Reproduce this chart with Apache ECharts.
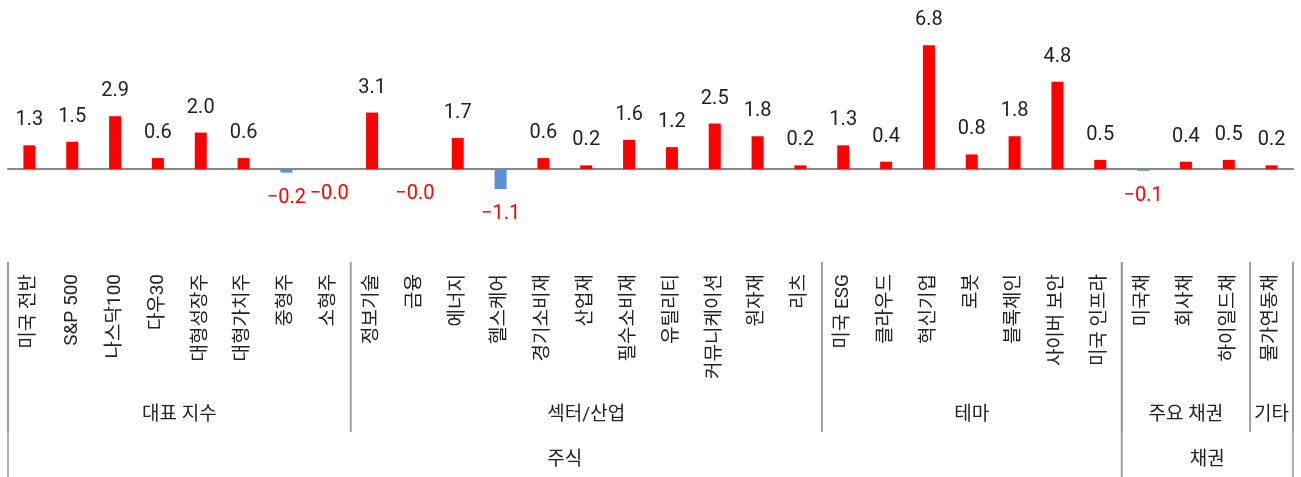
<!DOCTYPE html>
<html>
<head>
<meta charset="utf-8">
<script src="https://cdn.jsdelivr.net/npm/echarts@6/dist/echarts.min.js"></script>
<style>
  html, body { margin: 0; padding: 0; background: #fff; }
  #chart { width: 1301px; height: 477px; }
</style>
</head>
<body>
<div id="chart"></div>
<script>
// 카테고리 (하위 항목)
const categories = [
  '미국 전반', 'S&P 500', '나스닥100', '다우30', '대형성장주', '대형가치주', '중형주', '소형주',
  '정보기술', '금융', '에너지', '헬스케어', '경기소비재', '산업재', '필수소비재', '유틸리티',
  '커뮤니케이션', '원자재', '리츠',
  '미국 ESG', '클라우드', '혁신기업', '로봇', '블록체인', '사이버 보안', '미국 인프라',
  '미국채', '회사채', '하이일드채', '물가연동채'
];
const values = [
  1.3, 1.5, 2.9, 0.6, 2.0, 0.6, -0.2, -0.02,
  3.1, -0.02, 1.7, -1.1, 0.6, 0.2, 1.6, 1.2,
  2.5, 1.8, 0.2,
  1.3, 0.4, 6.8, 0.8, 1.8, 4.8, 0.5,
  -0.1, 0.4, 0.5, 0.2
];
// 중분류 / 대분류
const midNames = ['대표 지수', '섹터/산업', '테마', '주요 채권', '기타'];
const midCounts = [8, 11, 7, 3, 1];
const topNames = ['주식', '채권'];
const topCounts = [26, 4];

const FONT = 'Roboto, "Noto Sans CJK KR", sans-serif';
const chart = echarts.init(document.getElementById('chart'));

// 그룹 구간 [시작, 끝, 레벨]
const spans = [];
const spanNames = [];
let pos = 0;
midCounts.forEach((n, i) => { spans.push([pos, pos + n, 2]); spanNames.push(midNames[i]); pos += n; });
pos = 0;
topCounts.forEach((n, i) => { spans.push([pos, pos + n, 3]); spanNames.push(topNames[i]); pos += n; });

const fmt = (v) => v.toFixed(1).replace('-', '\u2212');

const barData = values.map((v) => ({
  value: v,
  itemStyle: { color: v < 0 ? '#5b8fd6' : '#ff0000' },
  label: {
    position: v < 0 ? 'bottom' : 'top',
    color: v < 0 ? '#ff0000' : '#222'
  }
}));

const option = {
  animation: false,
  grid: [
    { left: 8, right: 8, top: 41.6, height: 218.4 },
    { left: 8, right: 8, top: 262, bottom: 0 }
  ],
  xAxis: [
    {
      type: 'category',
      gridIndex: 0,
      data: categories,
      axisLine: { lineStyle: { color: '#888', width: 2 } },
      axisTick: { inside: true, length: 5, lineStyle: { color: '#888', width: 2 } },
      axisLabel: { show: false }
    },
    {
      type: 'category',
      gridIndex: 1,
      position: 'top',
      data: categories,
      axisLine: { show: false },
      axisTick: { inside: true, length: 125, lineStyle: { color: '#999', width: 1.5 } },
      axisLabel: {
        inside: true,
        rotate: 90,
        margin: 12,
        fontSize: 19,
        color: '#222',
        fontFamily: FONT
      }
    },
    { type: 'value', gridIndex: 1, min: 0, max: 30, show: false }
  ],
  yAxis: [
    { type: 'value', gridIndex: 0, min: -5, max: 7, show: false },
    { type: 'value', gridIndex: 1, min: 0, max: 1, show: false }
  ],
  series: [
    {
      type: 'bar',
      xAxisIndex: 0,
      yAxisIndex: 0,
      barWidth: 12,
      data: barData,
      label: {
        show: true,
        distance: 15,
        fontSize: 20,
        fontFamily: FONT,
        formatter: (p) => fmt(p.value)
      }
    },
    {
      type: 'custom',
      xAxisIndex: 2,
      yAxisIndex: 1,
      clip: false,
      silent: true,
      data: spans,
      renderItem: (params, api) => {
        const cs = params.coordSys;
        const x0 = api.coord([api.value(0), 0])[0];
        const x1 = api.coord([api.value(1), 0])[0];
        const lvl = api.value(2);
        const yEnd = lvl === 2 ? cs.y + 170 : cs.y + cs.height;
        const yText = lvl === 2 ? cs.y + 153 : cs.y + 198;
        const stroke = { stroke: '#999', lineWidth: 1.5 };
        return {
          type: 'group',
          children: [
            { type: 'line', shape: { x1: x0, y1: cs.y, x2: x0, y2: yEnd }, style: stroke },
            { type: 'line', shape: { x1: x1, y1: cs.y, x2: x1, y2: yEnd }, style: stroke },
            {
              type: 'text',
              style: {
                text: spanNames[params.dataIndex],
                x: (x0 + x1) / 2,
                y: yText,
                align: 'center',
                verticalAlign: 'middle',
                fontSize: 19,
                fontFamily: FONT,
                fill: '#222'
              }
            }
          ]
        };
      }
    }
  ]
};

chart.setOption(option);
</script>
</body>
</html>
